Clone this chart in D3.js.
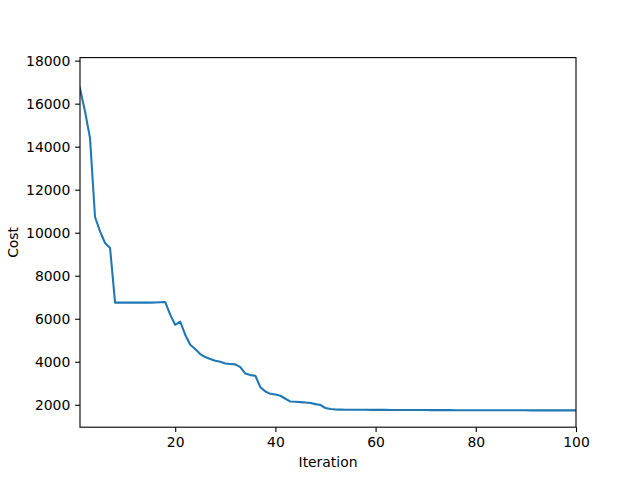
<!DOCTYPE html>
<html>
<head>
<meta charset="utf-8">
<script src="https://cdn.jsdelivr.net/npm/d3@7"></script>
<style>
  html, body { margin: 0; padding: 0; background: #fff; }
  text { font-family: "DejaVu Sans", sans-serif; fill: #000; }
</style>
</head>
<body>
<svg id="chart" width="640" height="480"></svg>
<script>
const iterations = d3.range(0, 101);
const cost = [
  17360, 16700, 15640, 14400, 10730, 10060, 9520, 9290, 6750, 6750,
  6750, 6750, 6750, 6750, 6750, 6750, 6755, 6770, 6780, 6190,
  5720, 5870, 5260, 4790, 4590, 4360, 4220, 4130, 4050, 4000,
  3920, 3900, 3880, 3750, 3450, 3380, 3350, 2820, 2620, 2510,
  2480, 2420, 2280, 2150, 2140, 2125, 2110, 2080, 2030, 1990,
  1846, 1800, 1780, 1775, 1772, 1770, 1768, 1767, 1766, 1765,
  1764, 1763, 1762, 1761, 1760, 1759, 1758, 1757, 1756, 1755,
  1754, 1753, 1752, 1751, 1750, 1750, 1749, 1749, 1748, 1748,
  1747, 1747, 1746, 1746, 1745, 1745, 1744, 1744, 1743, 1743,
  1742, 1742, 1742, 1741, 1741, 1741, 1740, 1740, 1740, 1739,
  1739
];
const xTicks = [20, 40, 60, 80, 100];
const yTicks = [2000, 4000, 6000, 8000, 10000, 12000, 14000, 16000, 18000];
const xLabel = "Iteration";
const yLabel = "Cost";

const W = 640, H = 480;
const m = { left: 80, right: 576, top: 57.6, bottom: 427.2 };
const fs = 13.9;
const tickLen = 4.86, pad = 4.86;

const svg = d3.select("#chart");

const x = d3.scaleLinear().domain([1, 100]).range([m.left, m.right]);
const [ymin, ymax] = d3.extent(cost);
const yr = ymax - ymin;
const y = d3.scaleLinear().domain([ymin - 0.05 * yr, ymax + 0.05 * yr]).range([m.bottom, m.top]);

svg.append("defs").append("clipPath").attr("id", "clip")
  .append("rect").attr("x", m.left).attr("y", m.top)
  .attr("width", m.right - m.left).attr("height", m.bottom - m.top);

const data = iterations.map((it, i) => ({ it, v: cost[i] }));

svg.append("path")
  .datum(data)
  .attr("clip-path", "url(#clip)")
  .attr("fill", "none")
  .attr("stroke", "#1f77b4")
  .attr("stroke-width", 2.08)
  .attr("stroke-linejoin", "round")
  .attr("stroke-linecap", "square")
  .attr("d", d3.line().x(d => x(d.it)).y(d => y(d.v)));

// X axis
const xAxis = svg.append("g").attr("transform", `translate(0,${m.bottom})`)
  .call(d3.axisBottom(x).tickValues(xTicks).tickSize(tickLen).tickPadding(pad).tickFormat(d3.format("d")));
xAxis.select(".domain").remove();
xAxis.selectAll("line").attr("stroke", "#000").attr("stroke-width", 1.1);
xAxis.selectAll("text").attr("font-size", fs).attr("font-family", "DejaVu Sans").attr("dy", "0.72em");

// Y axis
const yAxis = svg.append("g").attr("transform", `translate(${m.left},0)`)
  .call(d3.axisLeft(y).tickValues(yTicks).tickSize(tickLen).tickPadding(pad).tickFormat(d3.format("d")));
yAxis.select(".domain").remove();
yAxis.selectAll("line").attr("stroke", "#000").attr("stroke-width", 1.1);
yAxis.selectAll("text").attr("font-size", fs).attr("font-family", "DejaVu Sans").attr("dy", "0.36em");

// Spines
svg.append("rect")
  .attr("x", m.left).attr("y", m.top)
  .attr("width", m.right - m.left).attr("height", m.bottom - m.top)
  .attr("fill", "none").attr("stroke", "#000").attr("stroke-width", 1.1);

// Axis labels
svg.append("text")
  .attr("x", (m.left + m.right) / 2).attr("y", 467)
  .attr("text-anchor", "middle").attr("font-size", fs)
  .text(xLabel);

svg.append("text")
  .attr("transform", `translate(17.5,${(m.top + m.bottom) / 2}) rotate(-90)`)
  .attr("text-anchor", "middle").attr("font-size", fs)
  .text(yLabel);
</script>
</body>
</html>
